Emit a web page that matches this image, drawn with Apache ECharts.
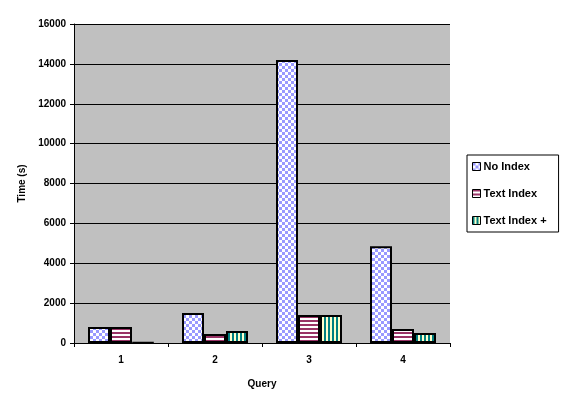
<!DOCTYPE html>
<html>
<head>
<meta charset="utf-8">
<script src="https://cdn.jsdelivr.net/npm/echarts@6/dist/echarts.min.js"></script>
<style>
  html, body { margin: 0; padding: 0; background: #fff; }
  #chart { width: 581px; height: 404px; }
</style>
</head>
<body>
<div id="chart"></div>
<script>
const queries = ['1', '2', '3', '4']
const noIndex = [800, 1500, 14200, 4850]
const textIndex = [800, 450, 1400, 700]
const textIndexPlus = [20, 600, 1400, 500]
const yTicks = { min: 0, max: 16000, interval: 2000 }

// small canvas tiles for the Excel-like fill patterns
const makeTile = (w, h, draw) => {
  const c = document.createElement('canvas')
  c.width = w
  c.height = h
  draw(c.getContext('2d'))
  return c
}

const checker = makeTile(6, 6, ctx => {
  ctx.fillStyle = '#ffffff'
  ctx.fillRect(0, 0, 6, 6)
  ctx.fillStyle = '#9999ff'
  ctx.fillRect(0, 0, 3, 3)
  ctx.fillRect(3, 3, 3, 3)
})

const hStripes = makeTile(4, 4, ctx => {
  ctx.fillStyle = '#ffffff'
  ctx.fillRect(0, 0, 4, 4)
  ctx.fillStyle = '#993366'
  ctx.fillRect(0, 0, 4, 2)
})

const vStripes = makeTile(4, 4, ctx => {
  ctx.fillStyle = '#ffffcc'
  ctx.fillRect(0, 0, 4, 4)
  ctx.fillStyle = '#008080'
  ctx.fillRect(0, 0, 2, 4)
})

const chart = echarts.init(document.getElementById('chart'), null, { renderer: 'canvas' })

const labelFont = {
  fontFamily: 'Arial, "Liberation Sans", sans-serif',
  fontWeight: 'bold',
  fontSize: 10,
  color: '#000'
}

const barSeries = (name, data, tile) => ({
  name,
  type: 'bar',
  data,
  barWidth: 22,
  barGap: '0%',
  itemStyle: {
    color: { image: tile, repeat: 'repeat' },
    borderColor: '#000',
    borderWidth: 2
  }
})

const option = {
  animation: false,
  backgroundColor: '#fff',
  grid: {
    left: 74,
    right: 131,
    top: 24,
    bottom: 61,
    show: true,
    backgroundColor: '#c0c0c0',
    borderWidth: 0
  },
  legend: {
    orient: 'vertical',
    left: 467,
    top: 155,
    itemWidth: 8,
    itemHeight: 8,
    itemGap: 16,
    padding: [6, 12, 6, 5],
    borderColor: '#000',
    borderWidth: 1,
    backgroundColor: '#fff',
    icon: 'rect',
    textStyle: {
      fontFamily: 'Arial, "Liberation Sans", sans-serif',
      fontWeight: 'bold',
      fontSize: 11,
      color: '#000',
      padding: [0, 0, 0, -2]
    },
    itemStyle: { borderColor: '#000', borderWidth: 1 }
  },
  xAxis: {
    type: 'category',
    data: queries,
    name: 'Query',
    nameLocation: 'middle',
    nameGap: 36,
    nameTextStyle: labelFont,
    axisLine: { lineStyle: { color: '#000', width: 1 } },
    axisTick: { show: true, length: 4, lineStyle: { color: '#000' } },
    axisLabel: { ...labelFont, margin: 12 },
    splitLine: { show: false }
  },
  yAxis: {
    type: 'value',
    min: yTicks.min,
    max: yTicks.max,
    interval: yTicks.interval,
    name: 'Time (s)',
    nameLocation: 'middle',
    nameGap: 46,
    nameRotate: 90,
    nameTextStyle: labelFont,
    axisLine: { show: true, lineStyle: { color: '#000', width: 1 } },
    axisTick: { show: true, length: 4, lineStyle: { color: '#000' } },
    axisLabel: { ...labelFont, margin: 8, formatter: v => String(v) },
    splitLine: { show: true, lineStyle: { color: '#000', width: 1 } }
  },
  series: [
    barSeries('No Index', noIndex, checker),
    barSeries('Text Index', textIndex, hStripes),
    barSeries('Text Index +', textIndexPlus, vStripes)
  ]
}

chart.setOption(option)
</script>
</body>
</html>
